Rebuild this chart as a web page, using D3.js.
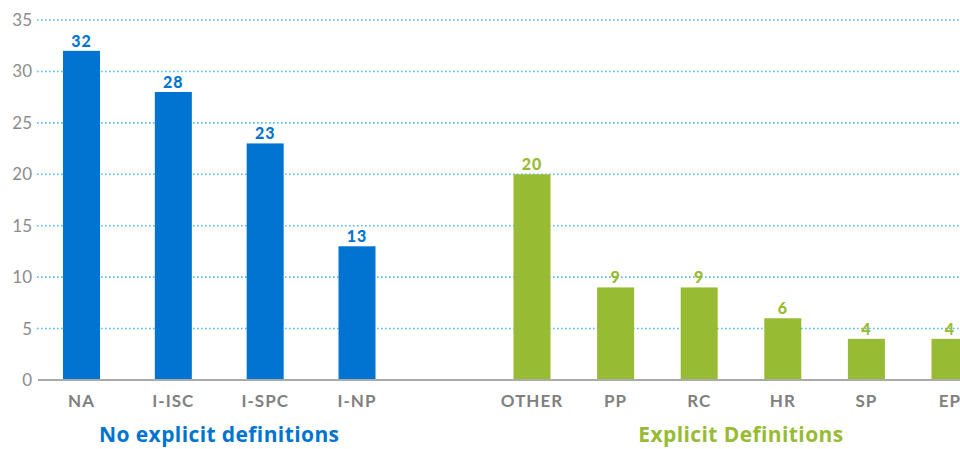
<!DOCTYPE html>
<html>
<head>
<meta charset="utf-8">
<script src="https://cdn.jsdelivr.net/npm/d3@7"></script>
<style>
	body { margin: 0; background: #fff; }
	svg { display: block; }
	text { font-family: Lato, 'Open Sans', sans-serif; }
</style>
</head>
<body>
<div id="chart"></div>
<script>
// values
var leftCategories = ['NA', 'I-ISC', 'I-SPC', 'I-NP'];
var leftValues = [32, 28, 23, 13];
var rightCategories = ['OTHER', 'PP', 'RC', 'HR', 'SP', 'EP'];
var rightValues = [20, 9, 9, 6, 4, 4];
var groupLabels = ['No explicit definitions', 'Explicit Definitions'];
var yTicks = [0, 5, 10, 15, 20, 25, 30, 35];

var width = 960,
	height = 449,
	barWidth = 37,
	blue = '#0074d0',
	green = '#97bb33';

var svg = d3.select('#chart').append('svg')
	.attr('width', width)
	.attr('height', height);

var yScale = d3.scaleLinear()
	.domain([0, 35])
	.range([380, 20]);

var xLeft = d3.scalePoint()
	.domain(leftCategories)
	.range([81.5, 357]);

var xRight = d3.scalePoint()
	.domain(rightCategories)
	.range([532, 950]);

// grid lines (dotted blue)
svg.append('g').selectAll('line')
	.data(yTicks.filter(function(d) { return d > 0; }))
	.enter().append('line')
		.attr('x1', 37)
		.attr('x2', width)
		.attr('y1', function(d) { return yScale(d); })
		.attr('y2', function(d) { return yScale(d); })
		.attr('stroke', '#5ab8ef')
		.attr('stroke-width', 1.6)
		.attr('stroke-dasharray', '1.6,2.4');

// y tick labels
svg.append('g').selectAll('text')
	.data(yTicks)
	.enter().append('text')
		.attr('x', 32)
		.attr('y', function(d) { return yScale(d); })
		.attr('dy', '0.35em')
		.attr('text-anchor', 'end')
		.attr('fill', '#8c8c8c')
		.attr('font-size', 17)
		.text(function(d) { return d; });

var groups = [
	{ cats: leftCategories, vals: leftValues, x: xLeft, color: blue, label: groupLabels[0] },
	{ cats: rightCategories, vals: rightValues, x: xRight, color: green, label: groupLabels[1] }
];

groups.forEach(function(grp) {
	var data = grp.cats.map(function(c, i) { return { cat: c, val: grp.vals[i] }; });
	var g = svg.append('g');

	g.selectAll('rect')
		.data(data)
		.enter().append('rect')
			.attr('x', function(d) { return grp.x(d.cat) - barWidth / 2; })
			.attr('y', function(d) { return yScale(d.val); })
			.attr('width', barWidth)
			.attr('height', function(d) { return yScale(0) - yScale(d.val); })
			.attr('fill', grp.color);

	g.selectAll('.val')
		.data(data)
		.enter().append('text')
			.attr('class', 'val')
			.attr('x', function(d) { return grp.x(d.cat); })
			.attr('y', function(d) { return yScale(d.val) - 4; })
			.attr('text-anchor', 'middle')
			.attr('fill', grp.color)
			.attr('font-size', 16)
			.attr('font-weight', 900)
			.attr('letter-spacing', 1)
			.text(function(d) { return d.val; });

	g.selectAll('.cat')
		.data(data)
		.enter().append('text')
			.attr('class', 'cat')
			.attr('x', function(d) { return grp.x(d.cat); })
			.attr('y', 407)
			.attr('text-anchor', 'middle')
			.attr('fill', '#808080')
			.attr('font-size', 17)
			.attr('font-weight', 'bold')
			.attr('letter-spacing', 1)
			.text(function(d) { return d.cat; });

	var range = grp.x.range();
	g.append('text')
		.attr('x', (range[0] + range[1]) / 2)
		.attr('y', 442)
		.attr('text-anchor', 'middle')
		.attr('fill', grp.color)
		.attr('font-size', 21)
		.attr('font-weight', 'bold')
		.attr('letter-spacing', 0.4)
		.style('font-family', "'Open Sans', sans-serif")
		.text(grp.label);
});

// baseline
svg.append('line')
	.attr('x1', 38)
	.attr('x2', width)
	.attr('y1', yScale(0))
	.attr('y2', yScale(0))
	.attr('stroke', '#aaaaaa')
	.attr('stroke-width', 2);
</script>
</body>
</html>
